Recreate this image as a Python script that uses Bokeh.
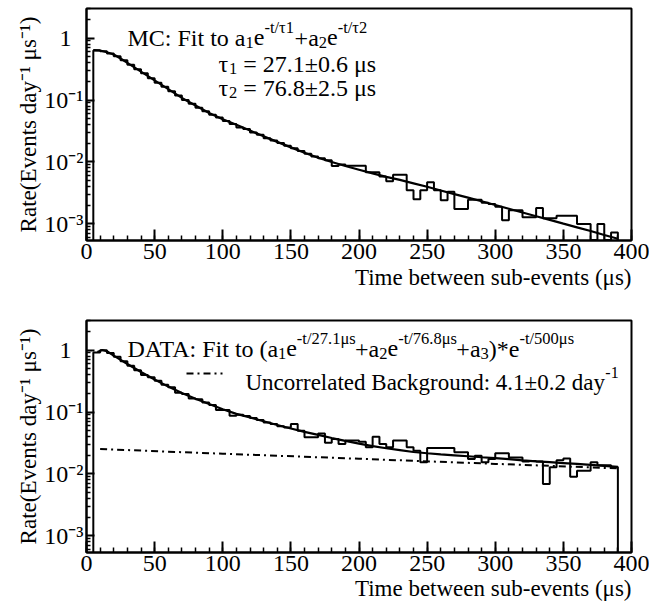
import math
from bokeh.plotting import figure
from bokeh.models import Range1d, FixedTicker, Title, ColumnDataSource
from bokeh.layouts import column
from bokeh.embed import file_html
from bokeh.resources import INLINE
from bokeh.core.properties import value, field

FONT = "Liberation Serif"

# ---------------- data ----------------
bin_low_edges = list(range(5, 390, 5))  # 5 us wide bins, 5 .. 390
bin_width = 5

mc_rate = [0.63, 0.61, 0.565, 0.51, 0.44, 0.37, 0.315, 0.27, 0.225, 0.19,
           0.163, 0.138, 0.118, 0.100, 0.087, 0.075, 0.066, 0.058, 0.052, 0.046,
           0.041, 0.036, 0.034, 0.030, 0.0275, 0.0242, 0.0222, 0.0202, 0.0183, 0.0166,
           0.0150, 0.0136, 0.0122, 0.0115, 0.0107, 0.0086, 0.0091, 0.0087, 0.0087, 0.0087,
           0.0068, 0.0068, 0.0058, 0.0049, 0.0062, 0.0062, 0.0035, 0.0025, 0.0035, 0.0047,
           0.0035, 0.0024, 0.0033, 0.00174, 0.00174, 0.00245, 0.00245, 0.0022, 0.0021, 0.0019,
           0.00115, 0.00166, 0.00166, 0.00128, 0.00128, 0.0018, 0.00123, 0.00123, 0.00136, 0.00136,
           0.00136, 0.0010, 0.0010, 0.00055, 0.0010, 0.00055, 0.00073]

data_rate = [0.915, 0.99, 0.90, 0.78, 0.66, 0.56, 0.47, 0.395, 0.365, 0.32,
             0.275, 0.25, 0.205, 0.195, 0.165, 0.16, 0.143, 0.13, 0.108, 0.108,
             0.087, 0.090, 0.086, 0.080, 0.074, 0.068, 0.064, 0.059, 0.056, 0.064,
             0.050, 0.039, 0.039, 0.045, 0.032, 0.0367, 0.0305, 0.0347, 0.0347, 0.033,
             0.027, 0.040, 0.0305, 0.027, 0.0347, 0.0347, 0.027, 0.0238, 0.0154, 0.0263,
             0.0263, 0.0263, 0.0263, 0.0224, 0.0224, 0.0174, 0.0197, 0.0154, 0.0174, 0.0215,
             0.0215, 0.0185, 0.0185, 0.0159, 0.0162, 0.0159, 0.0069, 0.0128, 0.0166, 0.0178,
             0.0090, 0.0113, 0.0113, 0.0154, 0.0138, 0.0138, 0.0129]

mc_fit_t = [5, 10, 15, 20, 25, 30, 40, 50, 60, 70, 80, 90, 100, 110, 120, 130, 140,
            150, 160, 170, 180, 190, 200, 210, 220, 230, 240, 250, 260, 270, 280,
            290, 300, 310, 320, 330, 340, 350, 360, 370, 380, 390]
mc_fit_rate = [0.638, 0.631, 0.589, 0.543, 0.468, 0.398, 0.288, 0.207, 0.150, 0.108,
               0.0813, 0.0617, 0.0490, 0.0398, 0.0321, 0.0259, 0.0211, 0.0172, 0.0141,
               0.0117, 0.0100, 0.00861, 0.00750, 0.00653, 0.00575, 0.00513, 0.00452,
               0.00398, 0.00347, 0.00302, 0.00266, 0.00232, 0.00202, 0.00176, 0.00153,
               0.00133, 0.00116, 0.00101, 0.000881, 0.000767, 0.000661, 0.000575]

data_fit_t = [8, 11.5, 15, 20, 30, 40, 50, 60, 70, 80, 90, 100, 110, 120, 130, 140,
              150, 160, 170, 180, 190, 200, 210, 220, 230, 240, 250, 260, 270, 280,
              290, 300, 310, 320, 330, 340, 350, 360, 370, 380, 390]
data_fit_rate = [0.933, 1.0, 0.955, 0.813, 0.596, 0.442, 0.335, 0.257, 0.202, 0.164,
                 0.135, 0.111, 0.0933, 0.0818, 0.0708, 0.0617, 0.0543, 0.0479, 0.0427,
                 0.0380, 0.0343, 0.0309, 0.0282, 0.0260, 0.0243, 0.0226, 0.0216, 0.0207,
                 0.0200, 0.0193, 0.0186, 0.0180, 0.0174, 0.0166, 0.0160, 0.0155, 0.0150,
                 0.0145, 0.0140, 0.0135, 0.0130]

bkg_t = [10, 100, 200, 300, 390]
bkg_rate = [0.0253, 0.0212, 0.0176, 0.01455, 0.0123]

x_major = [0, 50, 100, 150, 200, 250, 300, 350, 400]
y_major = [1e-3, 1e-2, 1e-1, 1.0]
y_labels = {1e-3: "10\u207b\u00b3", 1e-2: "10\u207b\u00b2", 1e-1: "10\u207b\u00b9", 1.0: "1\u2002"}

# ---------------- geometry ----------------
W_TOT = 649
FL, FW, FH = 86, 545, 232
YMIN, YMAX = 5.4e-4, 3.0
LT, LB = math.log10(YMAX), math.log10(YMIN)

CW = {' ': 250, '(': 333, ')': 333, '*': 500, '+': 564, '-': 333, '.': 250, '/': 278,
      ':': 278, '=': 564, 'A': 722, 'B': 667, 'C': 667, 'D': 722, 'M': 889, 'F': 556,
      'T': 611, 'U': 722, 'a': 444, 'b': 500, 'c': 444, 'd': 500, 'e': 444, 'g': 500,
      'i': 278, 'k': 500, 'l': 278, 'n': 500, 'o': 500, 'r': 333, 's': 389, 't': 278,
      'u': 500, 'y': 500, '\u03bc': 500, '\u00b1': 564, '\u03c4': 439}
KERN = {'AT': -111, 'TA': -93}


def tw(s, size):
    w = sum(CW.get(c, 500) for c in s)
    w += sum(KERN.get(s[i:i + 2], 0) for i in range(len(s) - 1))
    return w * size / 1000.0


def px2x(px):
    return (px - FL) / FW * 400.0


def py2y(py, ftop):
    return 10 ** (LT - (py - ftop) / FH * (LT - LB))


def rich(p, x0, base, ftop, parts):
    xs, ys, tx, sz = [], [], [], []
    x = x0
    for s, size, dy in parts:
        core = s.lstrip(" ")
        x += tw(s[:len(s) - len(core)], size)
        xs.append(px2x(x))
        ys.append(py2y(base + dy, ftop))
        tx.append(core.rstrip(" "))
        sz.append("%.1fpx" % size)
        x += tw(core, size)
    src = ColumnDataSource(dict(x=xs, y=ys, text=tx, size=sz))
    p.text(x="x", y="y", text="text", source=src, text_font=value(FONT),
           text_font_size=field("size"), text_baseline="alphabetic",
           text_align="left", text_color="black")


def outline(lo, vals, w, floor=1e-7):
    xs, ys = [lo[0]], [floor]
    for l, v in zip(lo, vals):
        xs += [l, l + w]
        ys += [v, v]
    xs.append(lo[-1] + w)
    ys.append(floor)
    return xs, ys


def make_fig(height, top, title_standoff):
    p = figure(width=W_TOT, height=height, x_range=Range1d(0, 400),
               y_range=Range1d(YMIN, YMAX), y_axis_type="log",
               output_backend="svg", toolbar_location=None,
               min_border_left=FL, min_border_right=W_TOT - FL - FW,
               min_border_top=top, min_border_bottom=height - top - FH)
    p.background_fill_color = "white"
    p.border_fill_color = "white"
    p.outline_line_color = "black"
    p.outline_line_width = 2
    p.grid.visible = False
    xa = p.xaxis[0]
    xa.ticker = FixedTicker(ticks=x_major, minor_ticks=list(range(0, 401, 10)))
    ya = p.yaxis[0]
    ya.ticker = FixedTicker(ticks=y_major,
                            minor_ticks=[m * 10.0 ** e for e in range(-4, 1) for m in range(2, 10)])
    ya.major_label_overrides = y_labels
    for ax, mj, mn in ((xa, 11, 5), (ya, 8, 4)):
        ax.axis_line_width = 2
        ax.axis_line_color = "black"
        ax.major_tick_in = mj
        ax.major_tick_out = 0
        ax.minor_tick_in = mn
        ax.minor_tick_out = 0
        ax.major_tick_line_width = 2
        ax.minor_tick_line_width = 1.5
        ax.major_tick_line_color = "black"
        ax.minor_tick_line_color = "black"
        ax.major_label_text_font = FONT
        ax.major_label_text_font_size = "24px"
        ax.major_label_text_font_style = "normal"
        ax.major_label_text_color = "black"
    xa.major_label_standoff = 3
    ya.major_label_standoff = 3
    p.add_layout(Title(text="Rate(Events day\u207b\u00b9 \u03bcs\u207b\u00b9)", align="center",
                       text_font=FONT, text_font_size="23px", text_font_style="normal",
                       text_color="black", standoff=2), "left")
    p.add_layout(Title(text="Time between sub-events (\u03bcs)", align="right",
                       text_font=FONT, text_font_size="23px", text_font_style="normal",
                       text_color="black", standoff=title_standoff), "below")
    return p


# ---------------- top panel (MC) ----------------
T1 = 8
p1 = make_fig(304, T1, 3)
hx, hy = outline(bin_low_edges, mc_rate, bin_width)
p1.line(hx, hy, line_color="black", line_width=2)
p1.line(mc_fit_t, mc_fit_rate, line_color="black", line_width=2.2)
rich(p1, 127, 37, T1, [("MC: Fit to a", 24, 0), ("1", 16.5, 5), ("e", 24, 0),
                       ("-t/\u03c41", 16.5, -10), ("+a", 24, 0), ("2", 16.5, 5),
                       ("e", 24, 0), ("-t/\u03c42", 16.5, -10)])
rich(p1, 218, 63, T1, [("\u03c4", 24, 0), ("1", 16.5, 5), (" = 27.1\u00b10.6 \u03bcs", 24, 0)])
rich(p1, 218, 87, T1, [("\u03c4", 24, 0), ("2", 16.5, 5), (" = 76.8\u00b12.5 \u03bcs", 24, 0)])

# ---------------- bottom panel (DATA) ----------------
T2 = 16
FT2 = 304 + T2
p2 = make_fig(305, T2, 1)
hx2, hy2 = outline(bin_low_edges, data_rate, bin_width)
p2.line(hx2, hy2, line_color="black", line_width=2)
p2.line(data_fit_t, data_fit_rate, line_color="black", line_width=2.2)
p2.line(bkg_t, bkg_rate, line_color="black", line_width=2, line_dash="7 4 2 4")
rich(p2, 127, 348, FT2, [("DATA: Fit to (a", 24, 0), ("1", 16.5, 5), ("e", 24, 0),
                         ("-t/27.1\u03bcs", 16.5, -10), ("+a", 24, 0), ("2", 16.5, 5),
                         ("e", 24, 0), ("-t/76.8\u03bcs", 16.5, -10), ("+a", 24, 0),
                         ("3", 16.5, 5), (")*e", 24, 0), ("-t/500\u03bcs", 16.5, -10)])
p2.line([px2x(186), px2x(222)], [py2y(373, FT2), py2y(373, FT2)],
        line_color="black", line_width=2, line_dash="7 4 2 4")
rich(p2, 245, 382, FT2, [("Uncorrelated Background: 4.1\u00b10.2 day", 23, 0), ("-1", 16, -10)])

layout = column(p1, p2, spacing=0)
open("out.html", "w").write(file_html(layout, INLINE))
